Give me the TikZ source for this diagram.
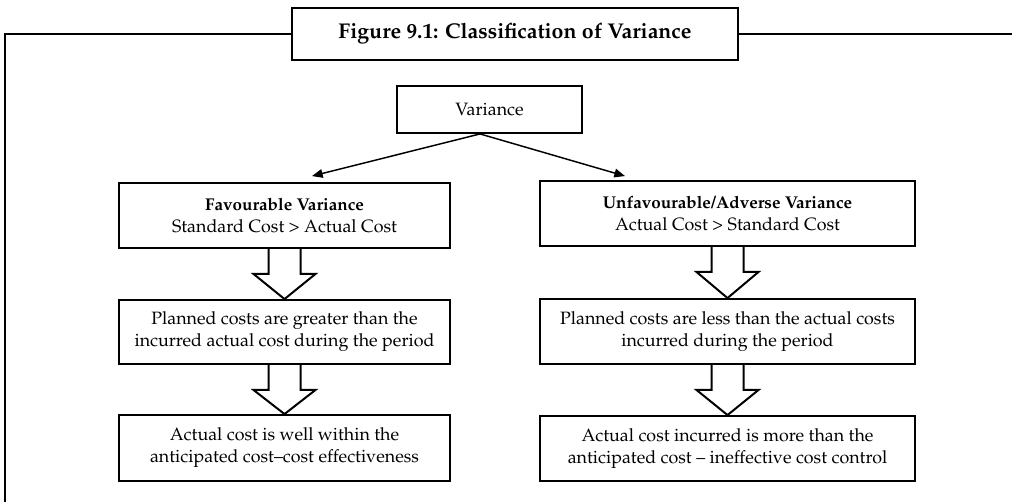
\documentclass[tikz,border=0pt]{standalone}
\usepackage[T1]{fontenc}
\usepackage{mathpazo}
\usetikzlibrary{calc,arrows.meta}
\tikzset{
  box/.style={draw, line width=1.4pt, align=center, inner sep=0pt, font=\fontsize{13.4}{16.5}\selectfont},
  titlebox/.style={draw, line width=2.2pt, inner sep=0pt, minimum width=446*0.75pt, minimum height=52*0.75pt, font=\fontsize{16}{18}\selectfont\bfseries},
  frame/.style={line width=1.6pt},
  thin/.style={line width=1.1pt, -{Triangle[length=8pt,width=6.5pt]}},
  fat/.style={line width=1.5pt, line join=miter},
}
\newcommand{\hd}[1]{{\fontsize{12.8}{16.5}\selectfont\bfseries #1}}
\newcommand{\hollowarrow}[2]{%
  \draw[fat] ($(#1.south)+(-16,0)$) -- ($(#1.south)+(-16,25)$) -- ($(#1.south)+(-31,25)$) -- (#2.north)
    -- ($(#1.south)+(31,25)$) -- ($(#1.south)+(16,25)$) -- ($(#1.south)+(16,0)$);}
\begin{document}
\begin{tikzpicture}[x=0.75pt,y=-0.75pt]
\useasboundingbox (0,0) rectangle (1012,502);
% title and frame
\node[titlebox] (title) at (515,34) {Figure 9.1: Classification of Variance};
\coordinate (ftl) at (5,34);
\coordinate (fbl) at (5,502);
\coordinate (ftr) at (1012,34);
\draw[frame] (title.west) -- (ftl) -- (fbl);
\draw[frame] (title.east) -- (ftr);
% variance
\node[box, minimum width=185*0.75pt, minimum height=47*0.75pt] (v) at (489.5,109.5) {Variance};
\coordinate (vo) at ($(v.south)+(-9.5,0)$);
% left column
\node[box, minimum width=331*0.75pt, minimum height=65*0.75pt] (l1) at (284.5,215.5) {\hd{Favourable Variance}\\Standard Cost > Actual Cost};
\node[box, minimum width=331*0.75pt, minimum height=64*0.75pt] (l2) at (284.5,332) {Planned costs are greater than the\\incurred actual cost during the period};
\node[box, minimum width=331*0.75pt, minimum height=66*0.75pt] (l3) at (284.5,448) {Actual cost is well within the\\anticipated cost--cost effectiveness};
% right column
\node[box, minimum width=375*0.75pt, minimum height=65*0.75pt] (r1) at (727.5,213.5) {\hd{Unfavourable/Adverse Variance}\\Actual Cost > Standard Cost};
\node[box, minimum width=375*0.75pt, minimum height=65*0.75pt] (r2) at (727.5,331.5) {Planned costs are less than the actual costs\\incurred during the period};
\node[box, minimum width=375*0.75pt, minimum height=65*0.75pt] (r3) at (727.5,448.5) {Actual cost incurred is more than the\\anticipated cost -- ineffective cost control};
% connectors
\coordinate (lt) at ($(l1.north)+(27.5,-6)$);
\coordinate (rt) at ($(r1.north)+(-102.5,-4)$);
\draw[thin] (vo) -- (lt);
\draw[thin] (vo) -- (rt);
\hollowarrow{l1}{l2}
\hollowarrow{l2}{l3}
\hollowarrow{r1}{r2}
\hollowarrow{r2}{r3}
\end{tikzpicture}
\end{document}
